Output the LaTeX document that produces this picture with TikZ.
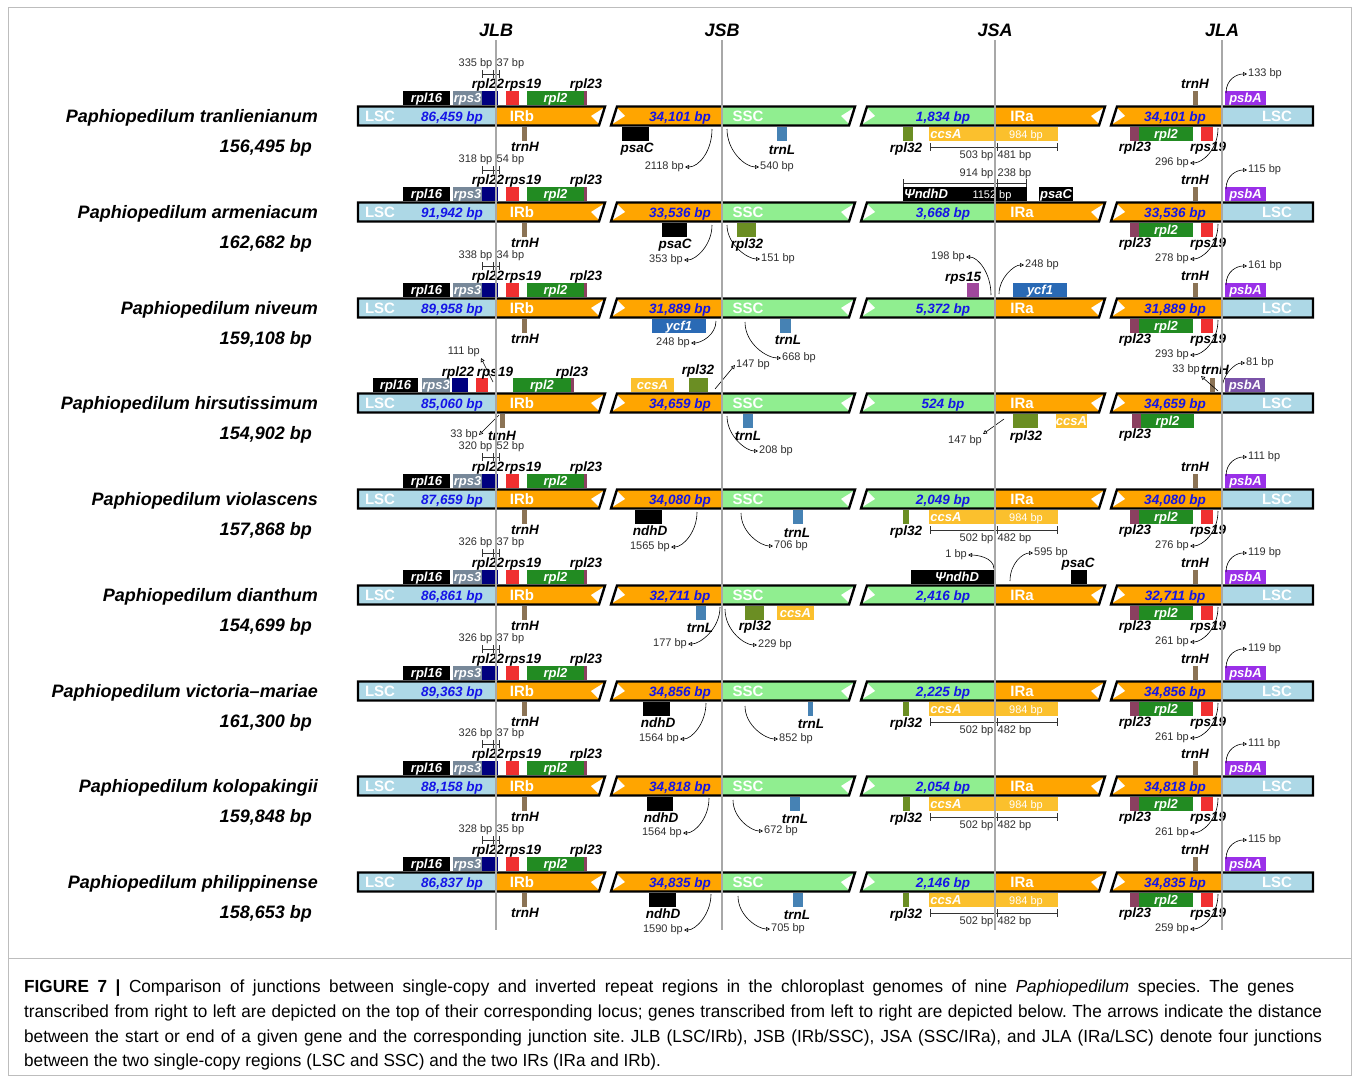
\documentclass[tikz,border=0pt]{standalone}
\usepackage{fontspec}
\setmainfont{Liberation Sans}
\newfontfamily\capfont[FakeStretch=0.98]{Liberation Sans}
\usepackage{tikz}
\usetikzlibrary{arrows.meta,calc}
\definecolor{lsccol}{HTML}{ADD8E6}
\definecolor{ircol}{HTML}{FFA500}
\definecolor{ssccol}{HTML}{90EE90}
\definecolor{lenblue}{HTML}{1414E6}
\definecolor{rpscol}{HTML}{778899}
\definecolor{rplnavy}{HTML}{00007F}
\definecolor{rpsred}{HTML}{F03030}
\definecolor{rplgreen}{HTML}{228B22}
\definecolor{rplmaroon}{HTML}{8B4060}
\definecolor{trnhcol}{HTML}{8B7355}
\definecolor{trnlcol}{HTML}{4682B4}
\definecolor{rpl32col}{HTML}{6B8E23}
\definecolor{ccsacol}{HTML}{FBC02D}
\definecolor{ycfcol}{HTML}{2A6AB5}
\definecolor{psbacol}{HTML}{9A30E8}
\definecolor{psbadim}{HTML}{7A52A8}
\definecolor{rps15col}{HTML}{A0489C}
\definecolor{jgray}{HTML}{A8A8A8}
\definecolor{bpgray}{HTML}{303030}
\definecolor{framecol}{HTML}{BDBDBD}

\tikzset{
  barline/.style={draw=black, line width=2.4pt, line join=miter},
  regtxt/.style={text=white, anchor=base, inner sep=0pt, font=\fontsize{15}{15}\selectfont\bfseries},
  lentxt/.style={text=lenblue, anchor=base, inner sep=0pt, font=\fontsize{13.5}{14}\selectfont\bfseries\itshape},
  boxtxt/.style={text=white, inner sep=0pt, font=\fontsize{13}{13}\selectfont\bfseries\itshape},
  boxin/.style={text=white, inner sep=0pt, font=\fontsize{11}{12}\selectfont},
  genelbl/.style={inner sep=0pt, font=\fontsize{13.5}{14}\selectfont\bfseries\itshape},
  bplbl/.style={text=bpgray, inner sep=1pt, font=\fontsize{11}{12}\selectfont},
  bparr/.style={-{Triangle[open,length=4pt,width=4pt]}, line width=0.6pt, draw=black},
  spname/.style={anchor=base east, inner sep=0pt, font=\fontsize{18}{20}\selectfont\bfseries\itshape},
  hdr/.style={anchor=base, inner sep=0pt, font=\fontsize{18}{20}\selectfont\bfseries\itshape},
  junction/.style={draw=jgray, line width=2pt},
  scaleln/.style={draw=black!80, line width=0.7pt},
  captxt/.style={anchor=base west, inner sep=0pt, font=\capfont\fontsize{17.5}{20}\selectfont}
}

% gene boxes above and below the bar
\newcommand{\upgene}[5]{%
  \fill[#4] (#2,-25) rectangle (#3,-11);
  \node[boxtxt, anchor=base] (#1) at ({(#2+#3)/2},-13.5) {#5};}
\newcommand{\dngene}[5]{%
  \fill[#4] (#2,11) rectangle (#3,25);
  \node[boxtxt, anchor=base] (#1) at ({(#2+#3)/2},22.5) {#5};}
\newcommand{\glabel}[4]{\node[genelbl, anchor=base] (#1) at (#2,#3+4.5) {#4};}

% distance arrows
\newcommand{\dist}[7]{%
  \coordinate (#1s) at (#2);
  \node[bplbl, anchor=#4] (#1) at (#3) {#7};
  \draw[bparr] (#1s) .. controls ($(#1s)+(#5)$) and ($(#1.#4)+(#6)$) .. (#1.#4);}
\newcommand{\distln}[5]{%
  \coordinate (#1s) at (#2);
  \node[bplbl, anchor=#4] (#1) at (#3) {#5};
  \draw[bparr] (#1s) -- (#1.#4);}

% two-part scale bar
\newcommand{\scalebar}[8]{%
  \draw[scaleln] (#2,#5) -- (#4,#5);
  \foreach \t in {#2,#3-1.5,#3+1.5,#4} \draw[scaleln] (\t,#5-4) -- (\t,#5+4);
  \node[bplbl, anchor=east] (#1l) at (#3-1,#6) {#7};
  \node[bplbl, anchor=west] (#1r) at (#3+1,#6) {#8};}

% one bar segment: x0, left slant, junction, x1, right slant, colours
\newcommand{\segfill}[7]{%
  \fill[#6] (#1+#2,-9.5) -- (#3,-9.5) -- (#3,9.5) -- (#1,9.5) -- cycle;
  \fill[#7] (#3,-9.5) -- (#4,-9.5) -- (#4-#5,9.5) -- (#3,9.5) -- cycle;}
\newcommand{\segline}[4]{%
  \draw[barline] (#1+#2,-9.5) -- (#3,-9.5) -- (#3-#4,9.5) -- (#1,9.5) -- cycle;}

\newcommand{\genome}[5]{%
  \segfill{358}{0}{496}{605}{6}{lsccol}{ircol}
  \segfill{611}{6}{722}{855}{6}{ircol}{ssccol}
  \segfill{861}{6}{995}{1105}{6}{ssccol}{ircol}
  \segfill{1111}{6}{1222}{1313}{0}{ircol}{lsccol}
  \foreach \xe in {605,855,1105}
    \fill[white] (\xe-0.5,-8.5) -- (\xe-5.5,8.5) -- (\xe-14,0) -- cycle;
  \foreach \xs in {611,861,1111}
    \fill[white] (\xs+5.5,-8.5) -- (\xs+0.5,8.5) -- (\xs+14,0) -- cycle;
  \segline{358}{0}{605}{6}
  \segline{611}{6}{855}{6}
  \segline{861}{6}{1105}{6}
  \segline{1111}{6}{1313}{0}
  \node[regtxt] (#1lscL) at (380,5) {LSC};
  \node[lentxt] (#1lenL) at (452,5) {#2};
  \node[regtxt] (#1irb) at (522,5) {IRb};
  \node[lentxt] (#1lenB) at (680,5) {#3};
  \node[regtxt] (#1ssc) at (748,5) {SSC};
  \node[lentxt] (#1lenS) at (943,5) {#4};
  \node[regtxt] (#1ira) at (1022,5) {IRa};
  \node[lentxt] (#1lenA) at (1175,5) {#5};
  \node[regtxt] (#1lscR) at (1277,5) {LSC};}

% genes round JLB in most rows
\newcommand{\jlbstd}[3]{%
  \upgene{#1rpl16}{403}{450}{black}{rpl16}
  \upgene{#1rps3}{453}{482}{rpscol}{rps3}
  \upgene{#1rpl22}{482}{498}{rplnavy}{}
  \upgene{#1rps19}{506}{519}{rpsred}{}
  \upgene{#1rpl2}{527}{584}{rplgreen}{rpl2}
  \upgene{#1rpl23}{584}{587}{rplmaroon}{}
  \glabel{#1rpl22l}{488}{-32}{rpl22}
  \glabel{#1rps19l}{523}{-32}{rps19}
  \glabel{#1rpl23l}{586}{-32}{rpl23}
  \scalebar{#1jlb}{482}{494.5}{499}{-42}{-52}{#2}{#3}
  \dngene{#1trnH}{522}{527}{trnhcol}{}
  \glabel{#1trnHl}{525}{31}{trnH}}

% genes round JLA in most rows
\newcommand{\jlastd}[3]{%
  \upgene{#1trnHa}{1193}{1198}{trnhcol}{}
  \glabel{#1trnHal}{1195}{-32}{trnH}
  \upgene{#1psbA}{1225}{1266}{psbacol}{psbA}
  \dist{#1dpsbA}{1226,-23}{1247,-42}{west}{0,-14}{-10,0}{#2}
  \dngene{#1rpl23a}{1130}{1139}{rplmaroon}{}
  \dngene{#1rpl2a}{1139}{1193}{rplgreen}{rpl2}
  \dngene{#1rps19a}{1201}{1213}{rpsred}{}
  \glabel{#1rpl23al}{1135}{31}{rpl23}
  \glabel{#1rps19al}{1208}{31}{rps19}
  \dist{#1drps19}{1218,12}{1190,47}{east}{0,22}{12,0}{#3}}

% rpl32 and ccsA round JSA
\newcommand{\ccsastd}[4]{%
  \dngene{#1rpl32}{903}{#2}{rpl32col}{}
  \glabel{#1rpl32l}{906}{32}{rpl32}
  \dngene{#1ccsA}{929}{1058}{ccsacol}{}
  \node[boxtxt, anchor=base] (#1ccsAl) at (946,22.5) {ccsA};
  \node[boxin, anchor=base] (#1ccsAbp) at (1026,22) {984 bp};
  \scalebar{#1jsa}{930}{995.5}{1057}{31}{40}{#3}{#4}}

\begin{document}
\frenchspacing
\begin{tikzpicture}[x=1pt,y=-1pt]
  \fill[white] (0,0) rectangle (1354,1076);
  \useasboundingbox (0,0) rectangle (1354,1076);
  \draw[framecol, line width=0.8pt] (8,7) rectangle (1351,1075);
  \draw[framecol, line width=0.8pt] (8,958) -- (1351,958);

  % row 1
  \begin{scope}[shift={(0,116)}]
    \genome{r1}{86,459 bp}{34,101 bp}{1,834 bp}{34,101 bp}
    \node[spname] (r1name) at (318,6.5) {Paphiopedilum tranlienianum};
    \node[spname] (r1size) at (312,36.5) {156,495 bp};
    \jlbstd{r1}{335 bp}{37 bp}
    \dngene{r1psaC}{622}{649}{black}{}
    \glabel{r1psaCl}{637}{32}{psaC}
    \dist{r1dpsaC}{712,13}{685,51}{east}{0,22}{14,0}{2118 bp}
    \dngene{r1trnL}{777}{787}{trnlcol}{}
    \glabel{r1trnLl}{782}{34}{trnL}
    \dist{r1dtrnL}{727,13}{759,51}{west}{0,22}{-14,0}{540 bp}
    \ccsastd{r1}{913}{503 bp}{481 bp}
    \jlastd{r1}{133 bp}{296 bp}
  \end{scope}

  % row 2
  \begin{scope}[shift={(0,212)}]
    \genome{r2}{91,942 bp}{33,536 bp}{3,668 bp}{33,536 bp}
    \node[spname] (r2name) at (318,6.5) {Paphiopedilum armeniacum};
    \node[spname] (r2size) at (312,36.5) {162,682 bp};
    \jlbstd{r2}{318 bp}{54 bp}
    \dngene{r2psaC}{662}{687}{black}{}
    \glabel{r2psaCl}{675}{32}{psaC}
    \dist{r2dpsaC}{712,13}{684,48}{east}{0,20}{12,0}{353 bp}
    \dngene{r2rpl32}{737}{756}{rpl32col}{}
    \glabel{r2rpl32l}{747}{32}{rpl32}
    \dist{r2drpl32}{727,13}{760,47}{west}{0,20}{-12,0}{151 bp}
    \upgene{r2ndhD}{903}{1027}{black}{}
    \node[boxtxt, anchor=base] (r2ndhDl) at (926,-13.5) {ΨndhD};
    \node[boxin, anchor=base] (r2ndhDbp) at (992,-14) {1152 bp};
    \scalebar{r2jsa}{903}{995.5}{1026}{-29}{-38}{914 bp}{238 bp}
    \upgene{r2psaCu}{1039}{1073}{black}{psaC}
    \jlastd{r2}{115 bp}{278 bp}
  \end{scope}

  % row 3
  \begin{scope}[shift={(0,308)}]
    \genome{r3}{89,958 bp}{31,889 bp}{5,372 bp}{31,889 bp}
    \node[spname] (r3name) at (318,6.5) {Paphiopedilum niveum};
    \node[spname] (r3size) at (312,36.5) {159,108 bp};
    \jlbstd{r3}{338 bp}{34 bp}
    \dngene{r3ycf1}{652}{706}{ycfcol}{ycf1}
    \dist{r3dycf1}{716,13}{691,35}{east}{0,14}{10,0}{248 bp}
    \dngene{r3trnL}{780}{791}{trnlcol}{}
    \glabel{r3trnLl}{788}{32}{trnL}
    \dist{r3dtrnL}{745,14}{781,50}{west}{0,22}{-14,0}{668 bp}
    \upgene{r3rps15}{967}{979}{rps15col}{}
    \glabel{r3rps15l}{963}{-31}{rps15}
    \dist{r3drps15}{991,-13}{966,-51}{east}{0,-22}{12,0}{198 bp}
    \upgene{r3ycf1u}{1013}{1067}{ycfcol}{ycf1}
    \dist{r3dycf1u}{999,-14}{1024,-43}{west}{0,-16}{-10,0}{248 bp}
    \jlastd{r3}{161 bp}{293 bp}
  \end{scope}

  % row 4
  \begin{scope}[shift={(0,403)}]
    \genome{r4}{85,060 bp}{34,659 bp}{524 bp}{34,659 bp}
    \node[spname] (r4name) at (318,6.5) {Paphiopedilum hirsutissimum};
    \node[spname] (r4size) at (312,36.5) {154,902 bp};
    \upgene{r4rpl16}{373}{418}{black}{rpl16}
    \upgene{r4rps3}{422}{450}{rpscol}{rps3}
    \upgene{r4rpl22}{452}{468}{rplnavy}{}
    \upgene{r4rps19}{476}{488}{rpsred}{}
    \upgene{r4rpl2}{513}{571}{rplgreen}{rpl2}
    \upgene{r4rpl23}{571}{574}{rplmaroon}{}
    \glabel{r4rpl22l}{458}{-31}{rpl22}
    \glabel{r4rps19l}{495}{-31}{rps19}
    \glabel{r4rpl23l}{572}{-31}{rpl23}
    \distln{r4drps19}{493,-21}{481,-45}{south east}{111 bp}
    \dngene{r4trnH}{500}{505}{trnhcol}{}
    \glabel{r4trnHl}{502}{33}{trnH}
    \distln{r4dtrnH}{499,12}{479,32}{east}{33 bp}
    \upgene{r4ccsA}{631}{674}{ccsacol}{ccsA}
    \upgene{r4rpl32}{689}{708}{rpl32col}{}
    \glabel{r4rpl32l}{698}{-33}{rpl32}
    \distln{r4drpl32}{715,-14}{735,-38}{west}{147 bp}
    \dngene{r4trnL}{743}{753}{trnlcol}{}
    \glabel{r4trnLl}{748}{33}{trnL}
    \dist{r4dtrnL}{727,13}{758,48}{west}{0,20}{-12,0}{208 bp}
    \dngene{r4rpl32d}{1013}{1038}{rpl32col}{}
    \glabel{r4rpl32dl}{1026}{33}{rpl32}
    \dngene{r4ccsAd}{1056}{1087}{ccsacol}{ccsA}
    \distln{r4dccsA}{1004,16}{983,31}{north east}{147 bp}
    \upgene{r4trnHa}{1210}{1215}{trnhcol}{}
    \glabel{r4trnHal}{1215}{-33}{trnH}
    \distln{r4dtrnHa}{1218,-12}{1201,-27}{south east}{33 bp}
    \upgene{r4psbA}{1225}{1265}{psbadim}{psbA}
    \dist{r4dpsbA}{1222,-14}{1245,-40}{west}{0,-14}{-10,0}{81 bp}
    \dngene{r4rpl23a}{1132}{1141}{rplmaroon}{}
    \dngene{r4rpl2a}{1141}{1194}{rplgreen}{rpl2}
    \glabel{r4rpl23al}{1135}{31}{rpl23}
  \end{scope}

  % row 5
  \begin{scope}[shift={(0,499)}]
    \genome{r5}{87,659 bp}{34,080 bp}{2,049 bp}{34,080 bp}
    \node[spname] (r5name) at (318,6.5) {Paphiopedilum violascens};
    \node[spname] (r5size) at (312,36.5) {157,868 bp};
    \jlbstd{r5}{320 bp}{52 bp}
    \dngene{r5ndhD}{635}{662}{black}{}
    \glabel{r5ndhDl}{650}{32}{ndhD}
    \dist{r5dndhD}{697,13}{671,48}{east}{0,20}{12,0}{1565 bp}
    \dngene{r5trnL}{793}{803}{trnlcol}{}
    \glabel{r5trnLl}{797}{34}{trnL}
    \dist{r5dtrnL}{741,14}{773,47}{west}{0,20}{-12,0}{706 bp}
    \ccsastd{r5}{909}{502 bp}{482 bp}
    \jlastd{r5}{111 bp}{276 bp}
  \end{scope}

  % row 6
  \begin{scope}[shift={(0,595)}]
    \genome{r6}{86,861 bp}{32,711 bp}{2,416 bp}{32,711 bp}
    \node[spname] (r6name) at (318,6.5) {Paphiopedilum dianthum};
    \node[spname] (r6size) at (312,36.5) {154,699 bp};
    \jlbstd{r6}{326 bp}{37 bp}
    \dngene{r6trnL}{696}{706}{trnlcol}{}
    \glabel{r6trnLl}{700}{33}{trnL}
    \dist{r6dtrnL}{720,12}{688,49}{east}{0,22}{12,0}{177 bp}
    \dngene{r6rpl32}{745}{764}{rpl32col}{}
    \glabel{r6rpl32l}{755}{31}{rpl32}
    \dist{r6drpl32}{725,14}{757,50}{west}{0,22}{-12,0}{229 bp}
    \dngene{r6ccsA}{777}{814}{ccsacol}{ccsA}
    \upgene{r6ndhD}{911}{996}{black}{}
    \node[boxtxt, anchor=base] (r6ndhDl) at (957,-13.5) {ΨndhD};
    \dist{r6dndhD}{994,-26}{968,-40}{east}{0,-12}{8,0}{1 bp}
    \upgene{r6psaC}{1071}{1087}{black}{}
    \glabel{r6psaCl}{1078}{-32}{psaC}
    \dist{r6dpsaC}{1010,-14}{1033,-42}{west}{0,-18}{-10,0}{595 bp}
    \jlastd{r6}{119 bp}{261 bp}
  \end{scope}

  % row 7
  \begin{scope}[shift={(0,691)}]
    \genome{r7}{89,363 bp}{34,856 bp}{2,225 bp}{34,856 bp}
    \node[spname] (r7name) at (318,6.5) {Paphiopedilum victoria–mariae};
    \node[spname] (r7size) at (312,36.5) {161,300 bp};
    \jlbstd{r7}{326 bp}{37 bp}
    \dngene{r7ndhD}{643}{670}{black}{}
    \glabel{r7ndhDl}{658}{32}{ndhD}
    \dist{r7dndhD}{706,12}{680,48}{east}{0,20}{12,0}{1564 bp}
    \dngene{r7trnL}{808}{813}{trnlcol}{}
    \glabel{r7trnLl}{811}{33}{trnL}
    \dist{r7dtrnL}{745,15}{778,48}{west}{0,20}{-12,0}{852 bp}
    \ccsastd{r7}{909}{502 bp}{482 bp}
    \jlastd{r7}{119 bp}{261 bp}
  \end{scope}

  % row 8
  \begin{scope}[shift={(0,786)}]
    \genome{r8}{88,158 bp}{34,818 bp}{2,054 bp}{34,818 bp}
    \node[spname] (r8name) at (318,6.5) {Paphiopedilum kolopakingii};
    \node[spname] (r8size) at (312,36.5) {159,848 bp};
    \jlbstd{r8}{326 bp}{37 bp}
    \dngene{r8ndhD}{647}{673}{black}{}
    \glabel{r8ndhDl}{661}{32}{ndhD}
    \dist{r8dndhD}{709,12}{683,47}{east}{0,20}{12,0}{1564 bp}
    \dngene{r8trnL}{790}{800}{trnlcol}{}
    \glabel{r8trnLl}{795}{33}{trnL}
    \dist{r8dtrnL}{733,14}{763,45}{west}{0,18}{-12,0}{672 bp}
    \ccsastd{r8}{910}{502 bp}{482 bp}
    \jlastd{r8}{111 bp}{261 bp}
  \end{scope}

  % row 9
  \begin{scope}[shift={(0,882)}]
    \genome{r9}{86,837 bp}{34,835 bp}{2,146 bp}{34,835 bp}
    \node[spname] (r9name) at (318,6.5) {Paphiopedilum philippinense};
    \node[spname] (r9size) at (312,36.5) {158,653 bp};
    \jlbstd{r9}{328 bp}{35 bp}
    \dngene{r9ndhD}{649}{676}{black}{}
    \glabel{r9ndhDl}{663}{32}{ndhD}
    \dist{r9dndhD}{711,12}{684,48}{east}{0,20}{12,0}{1590 bp}
    \dngene{r9trnL}{793}{803}{trnlcol}{}
    \glabel{r9trnLl}{797}{33}{trnL}
    \dist{r9dtrnL}{738,14}{770,47}{west}{0,20}{-12,0}{705 bp}
    \ccsastd{r9}{909}{502 bp}{482 bp}
    \jlastd{r9}{115 bp}{259 bp}
  \end{scope}

  % junction lines
  \foreach \x/\j in {496/JLB,722/JSB,995/JSA,1222/JLA} {
    \draw[junction] (\x,40) -- (\x,930);
    \node[hdr] (\j) at (\x,36) {\j};
  }

  % caption
  \node[captxt] (cap1) at (24,992) {\makebox[1270pt][s]{\textbf{FIGURE 7 |} Comparison of junctions between single-copy and inverted repeat regions in the chloroplast genomes of nine \textit{Paphiopedilum} species. The genes}};
  \node[captxt] (cap2) at (24,1017) {\makebox[1298pt][s]{transcribed from right to left are depicted on the top of their corresponding locus; genes transcribed from left to right are depicted below. The arrows indicate the distance}};
  \node[captxt] (cap3) at (24,1042) {\makebox[1298pt][s]{between the start or end of a given gene and the corresponding junction site. JLB (LSC/IRb), JSB (IRb/SSC), JSA (SSC/IRa), and JLA (IRa/LSC) denote four junctions}};
  \node[captxt] (cap4) at (24,1066) {between the two single-copy regions (LSC and SSC) and the two IRs (IRa and IRb).};
\end{tikzpicture}
\end{document}
